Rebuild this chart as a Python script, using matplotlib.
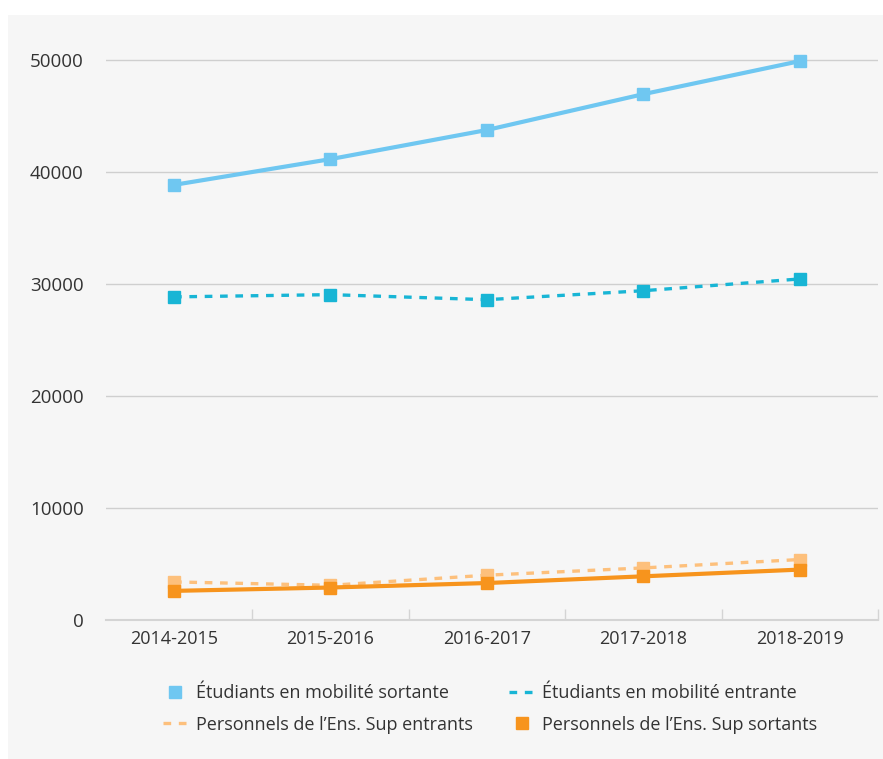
import matplotlib
matplotlib.use("Agg")
import matplotlib.pyplot as plt
from matplotlib.lines import Line2D

categories = ["2014-2015", "2015-2016", "2016-2017", "2017-2018", "2018-2019"]
etu_sortante = [38850, 41150, 43750, 46950, 49900]
etu_entrante = [28850, 29050, 28600, 29400, 30450]
pers_entrants = [3400, 3100, 4000, 4650, 5400]
pers_sortants = [2600, 2900, 3300, 3900, 4500]
yticks = [0, 10000, 20000, 30000, 40000, 50000]
labels = ["Étudiants en mobilité sortante", "Étudiants en mobilité entrante",
          "Personnels de l\u2019Ens. Sup entrants", "Personnels de l\u2019Ens. Sup sortants"]

c_sort = "#6fc7f1"
c_entr = "#18b5d5"
c_pent = "#fdc07c"
c_psort = "#f7941d"

plt.rcParams['font.family'] = ['Open Sans', 'DejaVu Sans']

W, H = 883, 759
fig = plt.figure(figsize=(W / 100, H / 100), dpi=100, facecolor="white")
bg = fig.add_axes([8 / W, 0, 1 - 8 / W, 1 - 15 / H])
bg.set_axis_off()
bg.add_patch(plt.Rectangle((0, 0), 1, 1, transform=bg.transAxes, facecolor="#f6f6f6", edgecolor="none"))

ax = fig.add_axes([106 / W, 1 - 620 / H, (878 - 106) / W, (620 - 38) / H])
ax.set_facecolor("none")
x = list(range(len(categories)))

ms = 8.5
dash = (0, (2.3, 2.3))
ax.plot(x, etu_sortante, color=c_sort, lw=3, marker="s", ms=ms, zorder=3)
ax.plot(x, etu_entrante, color=c_entr, lw=2.4, ls=dash, marker="s", ms=ms, zorder=3)
ax.plot(x, pers_entrants, color=c_pent, lw=2.4, ls=dash, marker="s", ms=ms, zorder=3)
ax.plot(x, pers_sortants, color=c_psort, lw=3, marker="s", ms=ms, zorder=4)

ax.set_xlim(-0.435, 4.5)
ax.set_ylim(0, 51964)
ax.set_yticks(yticks)
ax.set_yticklabels([str(v) for v in yticks])
ax.set_xticks(x)
ax.set_xticklabels(categories)
ax.set_xticks([0.5, 1.5, 2.5, 3.5, 4.5], minor=True)

for s in ["top", "right", "left"]:
    ax.spines[s].set_visible(False)
ax.spines["bottom"].set_color("#d4d4d4")
ax.spines["bottom"].set_linewidth(1.5)

ax.grid(axis="y", color="#cfcfcf", lw=1)
ax.set_axisbelow(True)
ax.tick_params(axis="y", length=0, pad=16, labelsize=13.5, labelcolor="#333333")
ax.tick_params(axis="x", which="major", length=0, pad=7.5, labelsize=13, labelcolor="#333333")
ax.tick_params(axis="x", which="minor", direction="in", length=8, width=1, color="#d4d4d4")

h_sort = Line2D([], [], color=c_sort, marker="s", ms=ms, ls="none")
h_entr = Line2D([], [], color=c_entr, lw=2.4, ls=dash)
h_pent = Line2D([], [], color=c_pent, lw=2.4, ls=dash)
h_psort = Line2D([], [], color=c_psort, marker="s", ms=ms, ls="none")
fig.legend([h_sort, h_pent, h_entr, h_psort], [labels[0], labels[2], labels[1], labels[3]],
           ncol=2, loc="center", bbox_to_anchor=(0.555, 1 - 709 / H),
           frameon=False, fontsize=13, handlelength=1.4, handletextpad=0.45,
           columnspacing=2.0, labelspacing=0.75, labelcolor="#333333")

fig.savefig("out.png", dpi=100)
